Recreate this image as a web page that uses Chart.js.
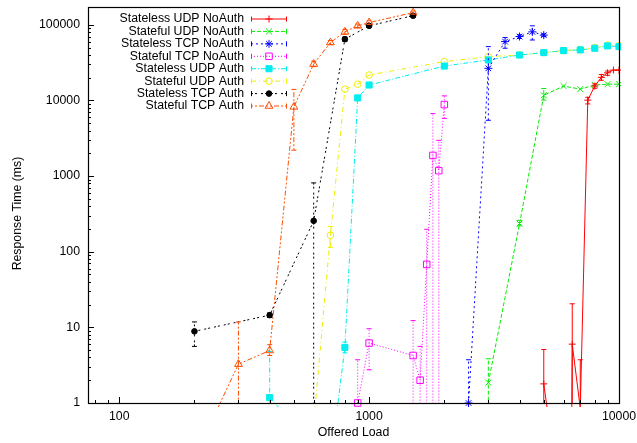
<!DOCTYPE html>
<html lang="en">
<head>
<meta charset="UTF-8">
<title>Response Time vs Offered Load</title>
<script src="https://cdn.jsdelivr.net/npm/chart.js"></script>
<style>
  body { margin: 0; background: #fff; }
  #wrap { width: 637px; height: 443px; }
</style>
</head>
<body>
<div id="wrap"><canvas id="rtChart" width="637" height="443"></canvas></div>
<script>
// values: offered load (x) vs response time in ms (y)
// lo/hi = error bar ends, null where no bar is visible
const xTicks = [100, 1000, 10000];
const yTicks = [1, 10, 100, 1000, 10000, 100000];

const seriesNames = [
  "Stateless UDP NoAuth", "Stateful UDP NoAuth", "Stateless TCP NoAuth", "Stateful TCP NoAuth",
  "Stateless UDP Auth", "Stateful UDP Auth", "Stateless TCP Auth", "Stateful TCP Auth"
];

const xStatelessUdpNoAuth = [5000, 6400, 6500, 7000, 7500, 8000, 8500, 9000, 9500, 10000];
const yStatelessUdpNoAuth = [1.79, 0.005, 6.0, 0.85, 10100, 15500, 20200, 23200, 25200, 25200];
const loStatelessUdpNoAuth = [0.1, null, 0.1, 0.1, 9000, 14500, 18500, 21500, null, null];
const hiStatelessUdpNoAuth = [5.1, null, 20.5, 3.73, 11000, 16500, 22000, 24500, null, null];

const xStatefulUdpNoAuth = [3000, 4000, 5000, 6000, 7000, 8000, 9000, 10000];
const yStatefulUdpNoAuth = [1.86, 236, 11700, 15500, 14100, 16000, 16400, 16400];
const loStatefulUdpNoAuth = [0.1, 220, 10100, null, null, null, null, null];
const hiStatefulUdpNoAuth = [3.84, 260, 14400, null, null, null, null, null];

const xStatelessTcpNoAuth = [2500, 3000, 3500, 4000, 4500, 5000];
const yStatelessTcpNoAuth = [1.0, 26600, 60000, 70000, 80700, 73000];
const loStatelessTcpNoAuth = [0.1, 5470, 49000, 66000, 63000, 70000];
const hiStatelessTcpNoAuth = [3.73, 51500, 68000, 74000, 97000, 76000];

const xStatefulTcpNoAuth = [900, 1000, 1500, 1600, 1700, 1800, 1900, 2000];
const yStatefulTcpNoAuth = [1.0, 6.2, 4.25, 2.0, 68, 1875, 1180, 8830];
const loStatefulTcpNoAuth = [0.1, 2.75, 0.1, 0.1, 0.1, 0.1, 0.1, 5800];
const hiStatefulTcpNoAuth = [3.73, 9.6, 12.3, 5.6, 198, 6700, 2970, 11500];

const xStatelessUdpAuth = [400, 700, 800, 900, 1000, 2000, 3000, 4000, 5000, 6000, 7000, 8000, 9000, 10000];
const yStatelessUdpAuth = [1.18, 0.16, 5.43, 10800, 16000, 28500, 34300, 39900, 42900, 45600, 46600, 49000, 52600, 51500];
const loStatelessUdpAuth = [0.3, null, 4.6, null, null, null, null, null, null, null, null, null, null, null];
const hiStatelessUdpAuth = [4.8, null, 6.4, null, null, null, null, null, null, null, null, null, null, null];

const xStatefulUdpAuth = [600, 700, 800, 900, 1000, 2000, 3000, 4000, 5000, 6000, 7000, 8000, 9000, 10000];
const yStatefulUdpAuth = [0.55, 165, 14100, 16400, 21700, 32600, 37900, 40000, 42900, 45600, 47000, 50000, 54000, 52800];
const loStatefulUdpAuth = [null, 114, null, null, null, null, null, null, null, null, null, null, null, null];
const hiStatefulUdpAuth = [null, 216, null, null, null, null, null, null, null, null, null, null, null, null];

const xStatelessTcpAuth = [200, 400, 600, 800, 1000, 1500];
const yStatelessTcpAuth = [8.86, 14.5, 256, 64600, 97000, 132000];
const loStatelessTcpAuth = [5.6, 13.5, 0.1, 60000, 92000, 126000];
const hiStatelessTcpAuth = [11.8, 15.5, 813, 69000, 102000, 138000];

const xStatefulTcpAuth = [200, 300, 400, 500, 600, 700, 800, 900, 1000, 1500];
const yStatefulTcpAuth = [0.19, 3.26, 4.95, 8220, 30300, 58200, 80700, 97000, 107000, 145000];
const loStatefulTcpAuth = [null, 0.1, 4.25, 2200, 28000, 55000, 75000, 92000, 101000, 138000];
const hiStatefulTcpAuth = [null, 11.8, 5.9, 14000, 33000, 62000, 87000, 102000, 113000, 152000];

// gnuplot-ish styles, one per series
const styles = [
  { color: '#ff0000', dash: [], point: 'cross', r: 3.5, fill: false },
  { color: '#00ee00', dash: [4, 2], point: 'crossRot', r: 4.2, fill: false },
  { color: '#0000ff', dash: [2, 3], point: 'star', r: 4, fill: false },
  { color: '#ff00ff', dash: [1, 2], point: 'rect', r: 4.6, fill: false },
  { color: '#00eeee', dash: [5, 2, 1, 2], point: 'rect', r: 4.3, fill: true },
  { color: '#eeee00', dash: [5, 3, 1, 3], point: 'circle', r: 3.3, fill: false },
  { color: '#000000', dash: [2, 2, 2, 4], point: 'circle', r: 2.8, fill: true },
  { color: '#ff4d00', dash: [2, 2, 2, 2, 5, 2], point: 'triangle', r: 4.5, fill: false }
];

const seriesX = [xStatelessUdpNoAuth, xStatefulUdpNoAuth, xStatelessTcpNoAuth, xStatefulTcpNoAuth,
  xStatelessUdpAuth, xStatefulUdpAuth, xStatelessTcpAuth, xStatefulTcpAuth];
const seriesY = [yStatelessUdpNoAuth, yStatefulUdpNoAuth, yStatelessTcpNoAuth, yStatefulTcpNoAuth,
  yStatelessUdpAuth, yStatefulUdpAuth, yStatelessTcpAuth, yStatefulTcpAuth];
const seriesLo = [loStatelessUdpNoAuth, loStatefulUdpNoAuth, loStatelessTcpNoAuth, loStatefulTcpNoAuth,
  loStatelessUdpAuth, loStatefulUdpAuth, loStatelessTcpAuth, loStatefulTcpAuth];
const seriesHi = [hiStatelessUdpNoAuth, hiStatefulUdpNoAuth, hiStatelessTcpNoAuth, hiStatefulTcpNoAuth,
  hiStatelessUdpAuth, hiStatefulUdpAuth, hiStatelessTcpAuth, hiStatefulTcpAuth];

const FONT = '"Liberation Sans", Arial, Helvetica, sans-serif';
Chart.defaults.font.family = FONT;
Chart.defaults.font.size = 12.3;
Chart.defaults.color = '#000';

const datasets = seriesNames.map((name, k) => {
  const s = styles[k];
  return {
    label: name,
    data: seriesX[k].map((x, i) => ({ x: x, y: seriesY[k][i] })),
    errLo: seriesLo[k],
    errHi: seriesHi[k],
    borderColor: s.color,
    backgroundColor: s.color,
    borderWidth: 1,
    borderDash: s.dash,
    tension: 0,
    fill: false,
    pointStyle: s.point,
    pointRadius: s.r,
    pointBorderWidth: 1,
    pointBorderColor: s.color,
    pointBackgroundColor: s.fill ? s.color : 'rgba(0,0,0,0)',
    clip: { left: 2, top: 2, right: 2, bottom: 4 }
  };
});

// vertical error bars with small caps
const errorBars = {
  id: 'errorBars',
  afterDatasetsDraw(chart) {
    const { ctx, chartArea: a, scales: { x, y } } = chart;
    ctx.save();
    ctx.beginPath();
    ctx.rect(a.left, a.top - 1, a.right - a.left, a.bottom - a.top + 2);
    ctx.clip();
    chart.data.datasets.forEach(ds => {
      ctx.strokeStyle = ds.borderColor;
      ctx.lineWidth = 1;
      ds.data.forEach((p, i) => {
        const lo = ds.errLo[i], hi = ds.errHi[i];
        if (lo == null || hi == null) return;
        const px = x.getPixelForValue(p.x);
        const y1 = y.getPixelForValue(lo), y2 = y.getPixelForValue(hi);
        ctx.setLineDash(ds.borderDash);
        ctx.beginPath();
        ctx.moveTo(px, y1); ctx.lineTo(px, y2);
        ctx.stroke();
        ctx.setLineDash([]);
        ctx.beginPath();
        ctx.moveTo(px - 2.5, y1); ctx.lineTo(px + 2.5, y1);
        ctx.moveTo(px - 2.5, y2); ctx.lineTo(px + 2.5, y2);
        ctx.stroke();
      });
    });
    ctx.restore();
  }
};

// box border + inward major/minor tics like gnuplot
const frameAndTicks = {
  id: 'frameAndTicks',
  afterDraw(chart) {
    const { ctx, chartArea: a, scales: { x, y } } = chart;
    ctx.save();
    ctx.strokeStyle = '#000';
    ctx.lineWidth = 1;
    ctx.setLineDash([]);
    ctx.beginPath();
    for (let e = 1; e <= 4; e++) {
      for (let m = 1; m <= 9; m++) {
        const v = m * Math.pow(10, e);
        if (v < x.min || v > x.max) continue;
        const px = Math.round(x.getPixelForValue(v)) + 0.5;
        const len = m === 1 ? 6 : 3;
        ctx.moveTo(px, a.bottom); ctx.lineTo(px, a.bottom - len);
      }
    }
    for (let e = 0; e <= 5; e++) {
      for (let m = 1; m <= 9; m++) {
        const v = m * Math.pow(10, e);
        if (v < y.min || v > y.max) continue;
        const py = Math.round(y.getPixelForValue(v)) + 0.5;
        const len = m === 1 ? 6 : 3;
        ctx.moveTo(a.left, py); ctx.lineTo(a.left + len, py);
      }
    }
    ctx.stroke();
    ctx.lineWidth = 1.2;
    ctx.strokeRect(Math.round(a.left) + 0.5, Math.round(a.top) + 0.5,
      Math.round(a.right - a.left), Math.round(a.bottom - a.top));
    ctx.restore();
  }
};

// key in the top-left corner: right-aligned text, sample line with caps and marker
const keyBox = {
  id: 'keyBox',
  afterDraw(chart) {
    const ctx = chart.ctx;
    ctx.save();
    ctx.font = '12.3px ' + FONT;
    ctx.textAlign = 'right';
    ctx.textBaseline = 'middle';
    chart.data.datasets.forEach((ds, i) => {
      const yy = 19 + i * 12.43;
      ctx.fillStyle = '#000';
      ctx.fillText(ds.label, 244, yy);
      ctx.strokeStyle = ds.borderColor;
      ctx.lineWidth = 1;
      ctx.setLineDash(ds.borderDash);
      ctx.beginPath(); ctx.moveTo(251, yy); ctx.lineTo(287, yy); ctx.stroke();
      ctx.setLineDash([]);
      ctx.beginPath();
      ctx.moveTo(251.5, yy - 2.5); ctx.lineTo(251.5, yy + 2.5);
      ctx.moveTo(286.5, yy - 2.5); ctx.lineTo(286.5, yy + 2.5);
      ctx.stroke();
      ctx.fillStyle = ds.pointBackgroundColor;
      Chart.helpers.drawPoint(ctx, { pointStyle: ds.pointStyle, radius: ds.pointRadius, rotation: 0, borderWidth: 1 }, 269, yy);
    });
    ctx.restore();
  }
};

new Chart(document.getElementById('rtChart'), {
  type: 'line',
  data: { datasets: datasets },
  options: {
    responsive: false,
    animation: false,
    layout: { padding: { top: 7, right: 18, bottom: 0, left: 0 } },
    plugins: { legend: { display: false }, tooltip: { enabled: false } },
    scales: {
      x: {
        type: 'logarithmic',
        min: 75,
        max: 10000,
        afterBuildTicks: s => { s.ticks = xTicks.map(v => ({ value: v })); },
        afterFit: s => { s.height = 40; s.paddingLeft = 0; s.paddingRight = 0; },
        ticks: { callback: v => String(v), padding: 6, maxRotation: 0, autoSkip: false },
        grid: { display: false, drawTicks: false },
        border: { display: false },
        title: { display: true, text: 'Offered Load', padding: { top: 0, bottom: 3 } }
      },
      y: {
        type: 'logarithmic',
        min: 1,
        max: 172000,
        afterBuildTicks: s => { s.ticks = yTicks.map(v => ({ value: v })); },
        afterFit: s => { s.width = 88; s.paddingTop = 0; s.paddingBottom = 0; },
        ticks: { callback: v => String(v), padding: 8, autoSkip: false },
        grid: { display: false, drawTicks: false },
        border: { display: false },
        title: { display: true, text: 'Response Time (ms)     ', padding: { top: 10, bottom: 0 } }
      }
    }
  },
  plugins: [errorBars, frameAndTicks, keyBox]
});
</script>
</body>
</html>
